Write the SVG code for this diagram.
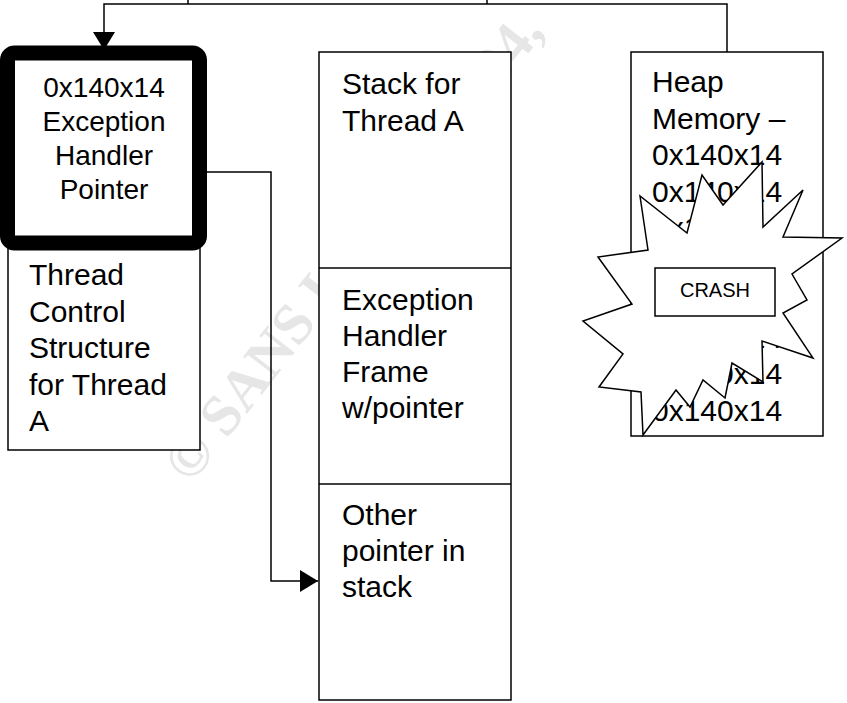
<svg xmlns="http://www.w3.org/2000/svg" width="847" height="703" viewBox="0 0 847 703">
<style>
.box{fill:#fff;stroke:#000;stroke-width:1.5}
.t{font-family:"Liberation Sans",Arial,sans-serif;font-size:30px;fill:#000}
.tc{font-family:"Liberation Sans",Arial,sans-serif;font-size:28px;fill:#000;text-anchor:middle}
.wm{font-family:"Liberation Serif","Times New Roman",serif;font-weight:bold;font-size:58px;fill:#e6e6e6}
.ln{fill:none;stroke:#000;stroke-width:1.5}
</style>
<defs>
<marker id="ah" markerUnits="userSpaceOnUse" markerWidth="18" markerHeight="22" refX="18" refY="11" orient="auto">
<path d="M0,0 L18,11 L0,22 z" fill="#000"/>
</marker>
</defs>
<rect width="847" height="703" fill="#fff"/>
<text class="wm" text-anchor="end" transform="translate(545,32) rotate(-52)">© SANS Institute 2004,</text>
<line x1="188" y1="0" x2="188" y2="4" stroke="#000" stroke-width="1.5"/>
<line x1="487" y1="0" x2="487" y2="4" stroke="#000" stroke-width="1.5"/>
<g id="thread-control">
<rect class="box" x="8" y="243" width="192" height="207"/>
<text class="t" x="29" y="285">Thread</text>
<text class="t" x="29" y="321.5">Control</text>
<text class="t" x="29" y="358">Structure</text>
<text class="t" x="29" y="394.5">for Thread</text>
<text class="t" x="29" y="431">A</text>
</g>
<g id="handler-pointer">
<rect x="7.5" y="53" width="192" height="190" rx="7" fill="#fff" stroke="#000" stroke-width="15"/>
<text class="tc" x="104" y="97">0x140x14</text>
<text class="tc" x="104" y="131">Exception</text>
<text class="tc" x="104" y="165">Handler</text>
<text class="tc" x="104" y="199">Pointer</text>
</g>
<g id="stack">
<rect class="box" x="319" y="52" width="192" height="648"/>
<line class="ln" x1="319" y1="268" x2="511" y2="268"/>
<line class="ln" x1="319" y1="484" x2="511" y2="484"/>
<text class="t" x="342" y="94">Stack for</text>
<text class="t" x="342" y="131">Thread A</text>
<text class="t" x="342" y="310">Exception</text>
<text class="t" x="342" y="346">Handler</text>
<text class="t" x="342" y="382">Frame</text>
<text class="t" x="342" y="418">w/pointer</text>
<text class="t" x="342" y="525">Other</text>
<text class="t" x="342" y="561">pointer in</text>
<text class="t" x="342" y="597">stack</text>
</g>
<g id="heap">
<rect class="box" x="631" y="52" width="192" height="384"/>
<text class="t" x="652" y="92">Heap</text>
<text class="t" x="652" y="128.5">Memory –</text>
<text class="t" x="652" y="165">0x140x14</text>
<text class="t" x="652" y="201.5">0x140x14</text>
<text class="t" x="652" y="238">0x140x14</text>
<text class="t" x="652" y="347.5">0x140x14</text>
<text class="t" x="652" y="384">0x140x14</text>
<text class="t" x="652" y="420.5">0x140x14</text>
</g>
<g id="crash">
<polygon fill="#fff" stroke="#000" stroke-width="1.5" stroke-linejoin="miter" points="725,398 732,363 763,382 762,341 813,358 783,313 807,300 792,274 842,238 783,237 803,190 763,227 762,162 723,205 702,175 687,233 640,196 648,250 598,257 632,304 583,321 623,354 599,387 641,392 643,435 676,390 690,407 703,380"/>
<rect class="box" x="655" y="268" width="120" height="48"/>
<text x="715" y="297" font-family="Liberation Sans, Arial, sans-serif" font-size="20" text-anchor="middle">CRASH</text>
</g>
<g id="connectors">
<path class="ln" d="M727,52 V4 H104 V50" marker-end="url(#ah)"/>
<path class="ln" d="M207,172 H271 V581 H318" marker-end="url(#ah)"/>
</g>
</svg>
